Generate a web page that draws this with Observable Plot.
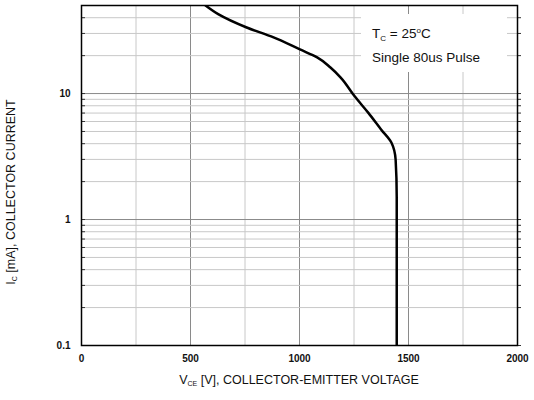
<!DOCTYPE html>
<html><head><meta charset="utf-8">
<script src="https://cdn.jsdelivr.net/npm/d3@7"></script>
<script src="https://cdn.jsdelivr.net/npm/@observablehq/plot@0.6"></script>
<style>
body{margin:0;background:#f6f6f6;font-family:"Liberation Sans",Arial,sans-serif;}
#wrap{position:relative;width:534px;height:400px;overflow:hidden;
 background:radial-gradient(ellipse 360px 520px at 250px 230px,#ffffff 0%,#ffffff 92%,#f6f6f6 93%);}
.lbl{position:absolute;font-size:12.5px;color:#111;white-space:nowrap;}
.lbl sub{font-size:7px;vertical-align:-2px;}
#legend{position:absolute;left:361px;top:14px;width:146px;height:58px;background:#fff;font-size:13.5px;color:#111;}
#legend div{position:absolute;left:11px;white-space:nowrap;}
#legend sub{font-size:8px;vertical-align:-3px;}
#legend sup{font-size:8px;vertical-align:5px;}
</style></head><body>
<div id="wrap"></div>
<script>
// Data
const vce = [569, 629, 755, 881, 1002, 1081, 1142, 1189, 1254, 1315, 1375, 1422, 1441, 1446, 1446, 1446];
const ic  = [50, 42.5, 33.6, 27.9, 22.4, 19.4, 16.1, 13.4, 9.46, 7.06, 5.17, 4.07, 2.98, 1.5, 0.5, 0.1];
const xTicks = [0, 500, 1000, 1500, 2000];
const xMinor = [250, 750, 1250, 1750];
const yTicks = [0.1, 1, 10];
const yMinor = [0.2,0.3,0.4,0.5,0.6,0.7,0.8,0.9,2,3,4,5,6,7,8,9,20,30,40];

const curve = vce.map((v, i) => ({v, i: ic[i]}));

const chart = Plot.plot({
  width: 534, height: 400,
  marginLeft: 81, marginRight: 17, marginTop: 5, marginBottom: 55,
  style: {fontFamily: "'Liberation Sans', Arial, sans-serif", fontSize: "10px", background: "transparent", color: "#111"},
  x: {domain: [0, 2000]},
  y: {type: "log", domain: [0.1, 50]},
  marks: [
    Plot.frame({fill: "white"}),
    Plot.ruleX(xMinor, {stroke: "#c8c8c8", strokeWidth: 1}),
    Plot.ruleX(xTicks, {stroke: "#8a8a8a", strokeWidth: 1}),
    Plot.ruleY(yMinor, {stroke: "#c8c8c8", strokeWidth: 1}),
    Plot.ruleY(yTicks, {stroke: "#8a8a8a", strokeWidth: 1}),
    Plot.axisY(yMinor.concat(yTicks), {anchor: "left", tickSize: -4, text: null, label: null, stroke: "#333"}),
    Plot.axisY(yMinor.concat(yTicks), {anchor: "right", tickSize: 3, text: null, label: null, stroke: "#333"}),
    Plot.axisX({ticks: xTicks, tickSize: 0, tickPadding: 9, fontWeight: "bold", label: null, tickFormat: d => String(d)}),
    Plot.axisY({ticks: yTicks, tickSize: 0, tickPadding: 11, fontWeight: "bold", label: null, tickFormat: d => String(d)}),
    Plot.line(curve, {x: "v", y: "i", stroke: "black", strokeWidth: 2.5, curve: "monotone-y", clip: true}),
    Plot.frame({stroke: "black", strokeWidth: 1.5})
  ]
});
const wrap = document.getElementById("wrap");
wrap.appendChild(chart);

const xl = document.createElement("div");
xl.className = "lbl";
xl.innerHTML = "V<sub>CE</sub> [V], COLLECTOR-EMITTER VOLTAGE";
xl.style.left = "299px"; xl.style.top = "373px"; xl.style.transform = "translateX(-50%)";
wrap.appendChild(xl);

const yl = document.createElement("div");
yl.className = "lbl";
yl.innerHTML = "I<sub>C</sub> [mA], COLLECTOR CURRENT";
yl.style.left = "11px"; yl.style.top = "192px";
yl.style.transform = "translate(-50%,-50%) rotate(-90deg)";
yl.style.transformOrigin = "50% 50%";
wrap.appendChild(yl);

const lg = document.createElement("div");
lg.id = "legend";
lg.innerHTML = '<div style="top:12px">T<sub>C</sub> = 25<sup>o</sup>C</div><div style="top:36px">Single 80us Pulse</div>';
wrap.appendChild(lg);
</script>
</body></html>
